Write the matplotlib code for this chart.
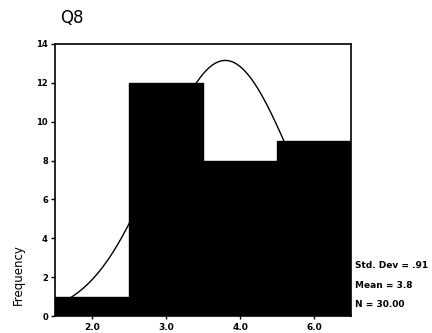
import matplotlib
matplotlib.use("Agg")
import matplotlib.pyplot as plt
import numpy as np

# histogram of Q8 (SPSS style)
bin_mids = [2, 3, 4, 5]
counts = [1, 12, 8, 9]
tick_labels = ["2.0", "3.0", "4.0", "6.0"]
std_dev = 0.91
mean = 3.8
n = 30
bin_width = 1.0

fig = plt.figure(figsize=(4.32, 3.33), dpi=100)
ax = fig.add_axes([0.127, 0.051, 0.686, 0.817])

# normal curve sits behind the bars
xs = np.linspace(1.5, 5.5, 300)
ys = n * bin_width / (std_dev * np.sqrt(2 * np.pi)) * np.exp(-0.5 * ((xs - mean) / std_dev) ** 2)
ax.plot(xs, ys, color="black", lw=1.0, zorder=1)

ax.bar(bin_mids, counts, width=bin_width, color="black", edgecolor="black", zorder=2)

ax.set_xlim(1.5, 5.5)
ax.set_ylim(0, 14)
ax.set_yticks(range(0, 15, 2))
ax.set_xticks(bin_mids)
ax.set_xticklabels(tick_labels)
for lab in ax.get_yticklabels() + ax.get_xticklabels():
    lab.set_fontweight("bold")
ax.tick_params(axis="y", labelsize=6, length=3, width=1, pad=2)
ax.tick_params(axis="x", labelsize=6.5, length=2, width=1, pad=3)
for s in ax.spines.values():
    s.set_linewidth(1.2)

fig.text(0.139, 0.946, "Q8", fontsize=12, va="center", ha="left")
fig.text(0.042, 0.174, "Frequency", fontsize=8.5, rotation=90, va="center", ha="center")

fig.text(0.822, 0.204, "Std. Dev = .91", fontsize=6.5, fontweight="bold", va="center")
fig.text(0.822, 0.144, "Mean = 3.8", fontsize=6.5, fontweight="bold", va="center")
fig.text(0.822, 0.087, "N = 30.00", fontsize=6.5, fontweight="bold", va="center")

fig.savefig("out.png", dpi=100)
